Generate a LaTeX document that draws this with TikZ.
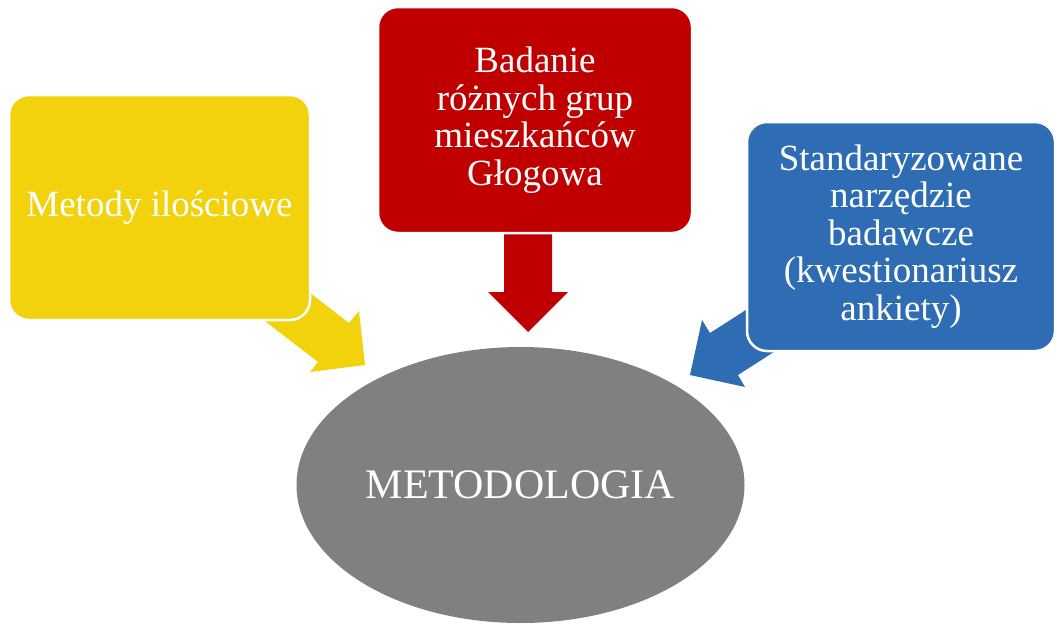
\documentclass[tikz,border=0pt]{standalone}
\usepackage{fontspec}
\setmainfont{Liberation Serif}
\usetikzlibrary{shapes.geometric}
\definecolor{cyellow}{RGB}{242,210,12}
\definecolor{cred}{RGB}{192,0,0}
\definecolor{cblue}{RGB}{46,108,180}
\definecolor{cgray}{RGB}{128,128,128}
\begin{document}
\begin{tikzpicture}[x=1pt,y=-1pt,
  boxnode/.style={rectangle, rounded corners=20pt, draw=white, line width=2.5pt,
    text=white, align=center, inner sep=0pt,
    font=\fontsize{37}{37.5}\selectfont},
  blockarrow/.style={draw=none}]
\useasboundingbox (0,0) rectangle (1056,624);
% block arrows (behind boxes)
\coordinate (ya1) at (293.6,280.3);
\coordinate (ya2) at (349,323);
\coordinate (ya3) at (359,311);
\coordinate (yat) at (365,365);
\coordinate (ya4) at (310,372);
\coordinate (ya5) at (318,362);
\coordinate (ya6) at (262.6,319.3);
\fill[cyellow] (ya1) -- (ya2) -- (ya3) -- (yat) -- (ya4) -- (ya5) -- (ya6) -- cycle;
\coordinate (ra1) at (504,200);
\coordinate (ra2) at (504,292);
\coordinate (ra3) at (488,292);
\coordinate (rat) at (528,332);
\coordinate (ra4) at (568,292);
\coordinate (ra5) at (552,292);
\coordinate (ra6) at (552,200);
\fill[cred] (ra1) -- (ra2) -- (ra3) -- (rat) -- (ra4) -- (ra5) -- (ra6) -- cycle;
\coordinate (ba1) at (768.9,295.2);
\coordinate (ba2) at (710,333);
\coordinate (ba3) at (702,320);
\coordinate (bat) at (690,375);
\coordinate (ba4) at (745,387);
\coordinate (ba5) at (738,375);
\coordinate (ba6) at (796.9,337.2);
\fill[cblue] (ba1) -- (ba2) -- (ba3) -- (bat) -- (ba4) -- (ba5) -- (ba6) -- cycle;
% boxes
\node[boxnode, fill=cyellow, minimum width=301pt, minimum height=225pt] (y) at (159.5,207.5) {Metody ilościowe};
\node[boxnode, fill=cred, minimum width=314pt, minimum height=226pt] (r) at (535,120) {Badanie\\różnych grup\\mieszkańców\\Głogowa};
\node[boxnode, fill=cblue, minimum width=308pt, minimum height=229pt] (b) at (901,236.5) {Standaryzowane\\narzędzie\\badawcze\\(kwestionariusz\\ankiety)};
% central ellipse
\node[ellipse, fill=cgray, draw=none, minimum width=448pt, minimum height=276pt, inner sep=0pt,
  text=white, font=\fontsize{42}{44}\selectfont] (m) at (520.5,485) {METODOLOGIA};
\end{tikzpicture}
\end{document}
